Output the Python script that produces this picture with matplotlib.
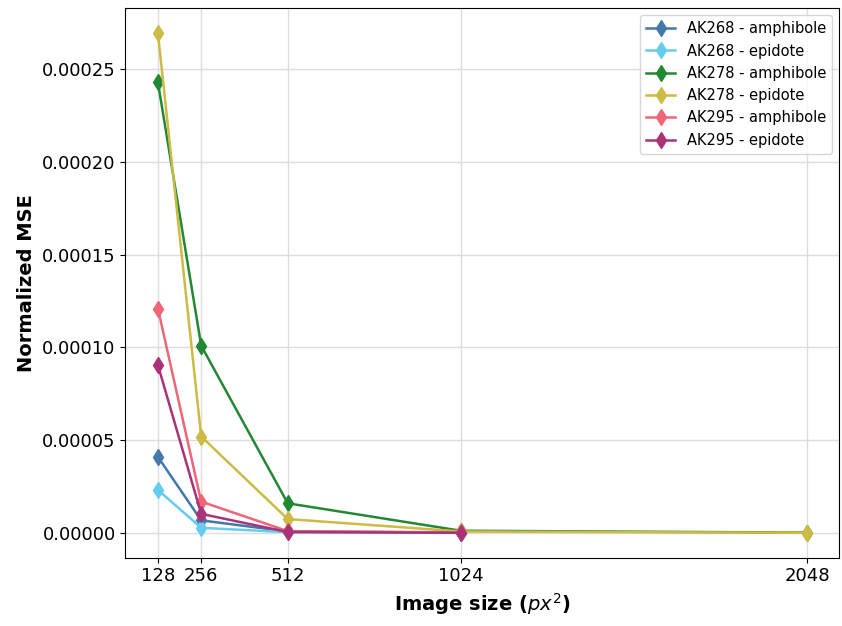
"""
Normalized MSE vs. image size for each sample / mineral pair
"""

import matplotlib
matplotlib.use('Agg')
import matplotlib.pyplot as plt

# image sizes (px^2)
sizes = [128, 256, 512, 1024, 2048]

# normalized MSE per sample / mineral
ak268_amphibole = [4.1e-5, 0.68e-5, 0.08e-5, 0.02e-5]
ak268_epidote = [2.32e-5, 0.28e-5, 0.04e-5, 0.01e-5]
ak278_amphibole = [2.43e-4, 1.01e-4, 1.6e-5, 0.12e-5, 0.02e-5]
ak278_epidote = [2.695e-4, 5.2e-5, 0.75e-5, 0.08e-5, 0.01e-5]
ak295_amphibole = [1.21e-4, 1.69e-5, 0.1e-5, 0.03e-5]
ak295_epidote = [9.05e-5, 1.03e-5, 0.05e-5, 0.01e-5]

series = [
    ('AK268 - amphibole', ak268_amphibole, '#4477AA'),
    ('AK268 - epidote', ak268_epidote, '#66CCEE'),
    ('AK278 - amphibole', ak278_amphibole, '#228833'),
    ('AK278 - epidote', ak278_epidote, '#CCBB44'),
    ('AK295 - amphibole', ak295_amphibole, '#EE6677'),
    ('AK295 - epidote', ak295_epidote, '#AA3377'),
]


def main():
    fig = plt.figure(figsize=(8.42, 6.26), dpi=100)
    ax = fig.add_axes([0.149, 0.109, 0.848, 0.878])

    for label, values, color in series:
        ax.plot(sizes[:len(values)], values, marker='d', markersize=8,
                linewidth=1.8, color=color, label=label)

    ax.set_xticks(sizes)
    ax.tick_params(axis='both', labelsize=13)
    ax.set_xlabel('Image size ($px^2$)', fontsize=14, fontweight='bold')
    ax.set_ylabel('Normalized MSE', fontsize=14, fontweight='bold')
    ax.grid(True, color='#dddddd', linewidth=1)
    ax.set_axisbelow(True)
    ax.legend(loc='upper right', fontsize=10.5)

    fig.savefig('out.png', dpi=100)
    plt.close(fig)


if __name__ == '__main__':
    main()
